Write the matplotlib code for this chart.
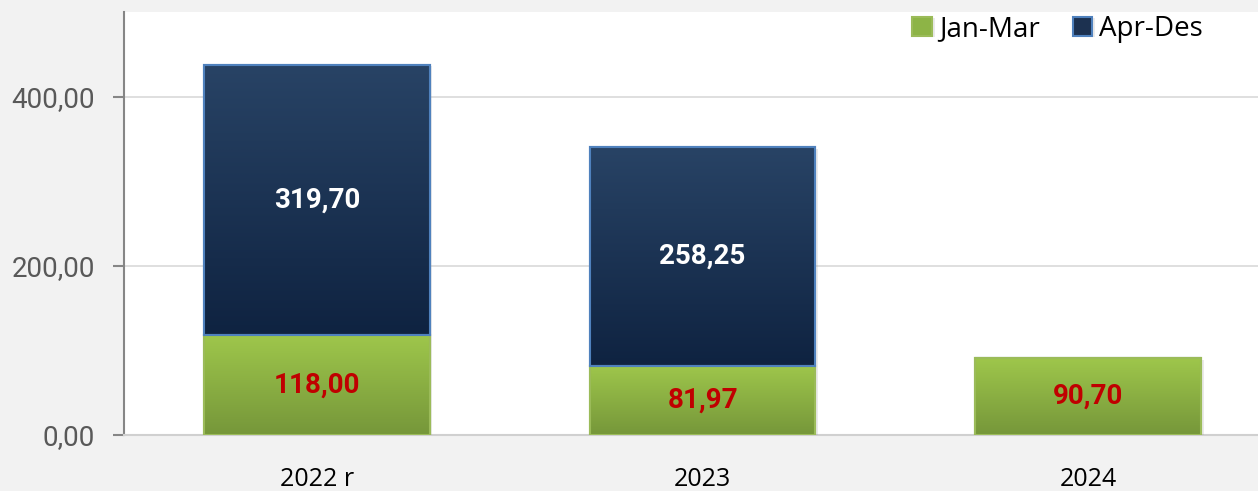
import numpy as np
import matplotlib
matplotlib.use("Agg")
import matplotlib.pyplot as plt
import matplotlib.patheffects as pe
from matplotlib.colors import LinearSegmentedColormap

years = ["2022 r", "2023", "2024"]
jan_mar = [118.00, 81.97, 90.70]
apr_des = [319.70, 258.25, np.nan]
y_ticks = [0, 200, 400]


def fmt(v):
    return f"{v:,.2f}".replace(",", " ").replace(".", ",")


def gradient_fill(ax, bars, top_color, bottom_color):
    cmap = LinearSegmentedColormap.from_list("g", [bottom_color, top_color])
    grad = np.linspace(0, 1, 64).reshape(-1, 1)
    for b in bars:
        if b.get_height() == 0 or np.isnan(b.get_height()):
            continue
        x0, y0 = b.get_x(), b.get_y()
        x1, y1 = x0 + b.get_width(), y0 + b.get_height()
        im = ax.imshow(grad, extent=[x0, x1, y0, y1], origin="lower",
                       cmap=cmap, aspect="auto", zorder=b.get_zorder() + 0.1,
                       interpolation="bicubic")
        im.set_clip_path(b)


fig = plt.figure(figsize=(12.58, 4.91), dpi=100)
fig.patch.set_facecolor("#f2f2f2")
ax = fig.add_axes([124 / 1258, 56 / 491, 1134 / 1258, 423 / 491])
ax.set_facecolor("white")

x = np.arange(len(years))
w = 0.585
shadow = [pe.SimplePatchShadow(offset=(2, -1), shadow_rgbFace="#9a9a9a", alpha=0.2), pe.Normal()]

green = ax.bar(x, jan_mar, w, color="#8db446", edgecolor="#9bbb59", linewidth=1.5,
               zorder=3, path_effects=shadow, label="Jan-Mar")
navy_vals = np.nan_to_num(apr_des)
navy = ax.bar(x, navy_vals, w, bottom=jan_mar, color="#1c3150", edgecolor="#4f81bd",
              linewidth=1.5, zorder=3, path_effects=shadow, label="Apr-Des")

gradient_fill(ax, green, "#9ec64b", "#76973a")
gradient_fill(ax, navy, "#284365", "#0f2341")

# outlines on top of the gradient
for bars, ec in ((green, "#9bbb59"), (navy, "#4f81bd")):
    for b in bars:
        if b.get_height() > 0:
            ax.add_patch(plt.Rectangle((b.get_x(), b.get_y()), b.get_width(), b.get_height(),
                                       fill=False, edgecolor=ec, linewidth=1.5, zorder=4))

label_font = ["Roboto", "DejaVu Sans"]
for i in range(len(years)):
    ax.text(x[i], jan_mar[i] / 2, fmt(jan_mar[i]), ha="center", va="center",
            color="#c00000", fontsize=20, fontweight="bold", family=label_font, zorder=5)
    if not np.isnan(apr_des[i]):
        ax.text(x[i], jan_mar[i] + apr_des[i] / 2, fmt(apr_des[i]), ha="center", va="center",
                color="white", fontsize=20, fontweight="bold", family=label_font, zorder=5)

ax.set_xlim(-0.5, 2.44)
ax.set_ylim(0, 500)
ax.set_yticks(y_ticks)
ax.set_yticklabels([fmt(v) for v in y_ticks], family=label_font, fontsize=20, color="#595959")
ax.set_xticks(x)
ax.set_xticklabels(years, family=["Open Sans", "DejaVu Sans"], fontsize=18, color="black")
ax.tick_params(axis="x", length=0, pad=23)
ax.tick_params(axis="y", length=8, width=1.5, color="#868686", pad=13)

ax.grid(axis="y", color="#d9d9d9", linewidth=1.2, zorder=0)
ax.set_axisbelow(True)
for s in ("top", "right"):
    ax.spines[s].set_visible(False)
ax.spines["left"].set_color("#868686")
ax.spines["left"].set_linewidth(1.5)
ax.spines["bottom"].set_color("#d0d0d0")
ax.spines["bottom"].set_linewidth(1.5)

leg = ax.legend(handles=[green, navy], loc="center right", bbox_to_anchor=(1203 / 1258, 1 - 29 / 491),
                bbox_transform=fig.transFigure, ncol=2, frameon=False,
                prop={"family": ["Open Sans", "DejaVu Sans"], "size": 20},
                handlelength=0.7, handleheight=0.7, handletextpad=0.25, columnspacing=1.2,
                borderaxespad=0, borderpad=0)

fig.savefig("out.png", dpi=100, facecolor=fig.get_facecolor())
